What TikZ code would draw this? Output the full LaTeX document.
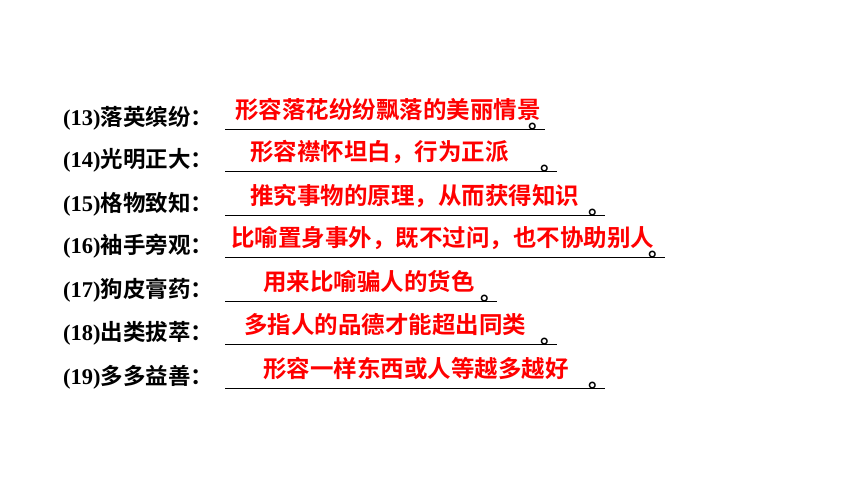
\documentclass[tikz,border=0pt]{standalone}
\usepackage{fontspec}
\setmainfont{Liberation Serif}
\newfontfamily\cjk{Noto Sans CJK SC}[BoldFont={Noto Sans CJK SC Bold}]
\definecolor{ansred}{RGB}{255,0,0}
\begin{document}
\begin{tikzpicture}[x=1pt,y=-1pt,
  lab/.style={anchor=west,inner sep=0,font=\fontsize{22.5}{22.5}\selectfont\bfseries},
  ans/.style={anchor=west,inner sep=0,text=ansred,font=\fontsize{23.5}{23.5}\selectfont\cjk\bfseries},
  ul/.style={line width=0.9pt}]
\useasboundingbox (0,0) rectangle (860,484);
\foreach \n/\y/\lbl/\a/\ax/\e in {
 13/118/落英缤纷/形容落花纷纷飘落的美丽情景/235/545,
 14/160/光明正大/形容襟怀坦白，行为正派/250/557,
 15/204/格物致知/推究事物的原理，从而获得知识/250/605,
 16/246/袖手旁观/比喻置身事外，既不过问，也不协助别人/231/665,
 17/290/狗皮膏药/用来比喻骗人的货色/263/497,
 18/333/出类拔萃/多指人的品德才能超出同类/244/557,
 19/377/多多益善/形容一样东西或人等越多越好/263/605}{
  \node[lab] (l\n) at (63,\y) {(\n){\cjk\bfseries \lbl：}};
  \coordinate (s\n) at (225,\y+11);
  \coordinate (e\n) at (\e,\y+11);
  \draw[ul] (s\n) -- (e\n);
  \node[ans] (a\n) at (\ax,\y-8) {\a};
  \node[anchor=south,inner sep=0,font=\fontsize{22}{22}\selectfont\cjk\bfseries] (p\n) at (\e-6,\y+12) {。};
}
\end{tikzpicture}
\end{document}
